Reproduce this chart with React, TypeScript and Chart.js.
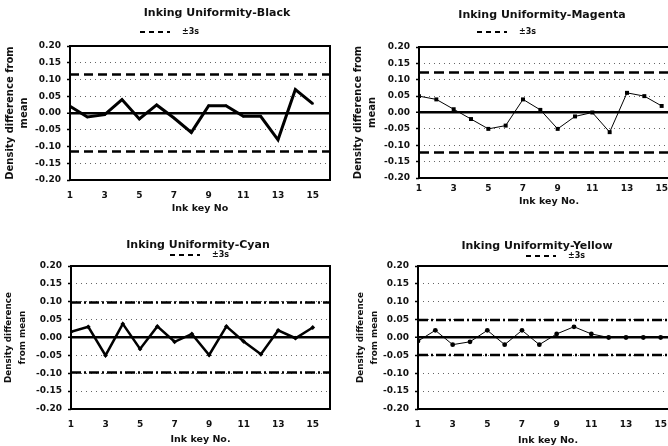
import { useEffect, useRef } from 'react';
import { Chart, registerables } from 'chart.js';

Chart.register(...registerables);

// ---------- data ----------
const inkKeys = [1, 2, 3, 4, 5, 6, 7, 8, 9, 10, 11, 12, 13, 14, 15];
const xTickValues = [1, 3, 5, 7, 9, 11, 13, 15];
const xRange = [1, 16];
const yRange = [-0.2, 0.2];
const yStep = 0.05;
const legendLabel = '±3s';

const blackValues = [0.02, -0.012, -0.005, 0.04, -0.018, 0.024, -0.015, -0.058, 0.022, 0.022, -0.01, -0.01, -0.08, 0.07, 0.028];
const magentaValues = [0.05, 0.04, 0.01, -0.02, -0.05, -0.04, 0.04, 0.008, -0.05, -0.012, 0.0, -0.06, 0.06, 0.05, 0.02];
const cyanValues = [0.016, 0.03, -0.05, 0.038, -0.032, 0.031, -0.012, 0.01, -0.049, 0.031, -0.011, -0.047, 0.02, -0.002, 0.028];
const yellowValues = [-0.01, 0.02, -0.02, -0.012, 0.02, -0.02, 0.02, -0.02, 0.01, 0.03, 0.01, 0.0, 0.0, 0.0, 0.0];

const blackLimit = 0.115;
const magentaLimit = 0.122;
const cyanLimit = 0.098;
const yellowLimit = 0.049;

const FONT = "'DejaVu Sans', Verdana, sans-serif";

type Spec = {
  title: string;
  values: number[];
  limit: number;
  yTitle: string[];
  yTitleSize: number;
  xTitle: string;
  canvas: [number, number, number, number];
  area: [number, number, number, number];
  titlePos: [number, number];
  legendPos: [number, number];
  yTitleX: number;
  xTickY: number;
  xTitleY: number;
  lineWidth: number;
  pointStyle: string;
  pointRadius: number;
  limitDash: number[];
};

const specs: Spec[] = [
  {
    title: 'Inking Uniformity-Black', values: blackValues, limit: blackLimit,
    yTitle: ['Density difference from', 'mean'], yTitleSize: 10, xTitle: 'Ink key No',
    canvas: [0, 0, 334, 223], area: [70, 46, 330, 180],
    titlePos: [217, 13], legendPos: [140, 32], yTitleX: 10, xTickY: 196, xTitleY: 209,
    lineWidth: 3, pointStyle: 'circle', pointRadius: 1.2, limitDash: [9, 5],
  },
  {
    title: 'Inking Uniformity-Magenta', values: magentaValues, limit: magentaLimit,
    yTitle: ['Density difference from', 'mean'], yTitleSize: 10, xTitle: 'Ink key No.',
    canvas: [334, 0, 350, 223], area: [419, 47, 679, 178],
    titlePos: [542, 15], legendPos: [477, 32], yTitleX: 358, xTickY: 189, xTitleY: 202,
    lineWidth: 1, pointStyle: 'rect', pointRadius: 2.8, limitDash: [10, 5],
  },
  {
    title: 'Inking Uniformity-Cyan', values: cyanValues, limit: cyanLimit,
    yTitle: ['Density difference', 'from mean'], yTitleSize: 8.8, xTitle: 'Ink key No.',
    canvas: [0, 223, 334, 223], area: [71, 266, 330, 409],
    titlePos: [198, 245], legendPos: [170, 255], yTitleX: 9, xTickY: 425, xTitleY: 440,
    lineWidth: 2.5, pointStyle: 'rectRot', pointRadius: 2.4, limitDash: [10, 3, 2, 3],
  },
  {
    title: 'Inking Uniformity-Yellow', values: yellowValues, limit: yellowLimit,
    yTitle: ['Density difference', 'from mean'], yTitleSize: 8.8, xTitle: 'Ink key No.',
    canvas: [334, 223, 350, 223], area: [418, 266, 678, 409],
    titlePos: [537, 246], legendPos: [526, 256], yTitleX: 361, xTickY: 425, xTitleY: 441,
    lineWidth: 1, pointStyle: 'circle', pointRadius: 2.4, limitDash: [10, 3, 2, 3],
  },
];

const decorPlugin = {
  id: 'decor',
  afterDraw(chart: any, _args: any, opts: any) {
    const ctx = chart.ctx as CanvasRenderingContext2D;
    const { left, top, right, bottom } = chart.chartArea;
    ctx.save();
    ctx.strokeStyle = '#000';
    ctx.lineWidth = 2;
    ctx.setLineDash([]);
    ctx.strokeRect(left, top, right - left, bottom - top);
    ctx.fillStyle = '#111';
    ctx.font = `bold 11px ${FONT}`;
    ctx.textAlign = 'center';
    ctx.textBaseline = 'middle';
    ctx.fillText(opts.title, opts.titleX, opts.titleY);
    const lim = chart.data.datasets[1];
    ctx.strokeStyle = '#000';
    ctx.lineWidth = 2;
    ctx.setLineDash([5, 4]);
    ctx.beginPath();
    ctx.moveTo(opts.legendX, opts.legendY);
    ctx.lineTo(opts.legendX + 30, opts.legendY);
    ctx.stroke();
    ctx.setLineDash([]);
    ctx.font = `bold 8px ${FONT}`;
    ctx.textAlign = 'left';
    ctx.fillText(lim.label, opts.legendX + 42, opts.legendY);
    ctx.restore();
  },
};

function ChartBox({ spec }: { spec: Spec }) {
  const ref = useRef<HTMLCanvasElement | null>(null);
  useEffect(() => {
    const [cx, cy, cw, ch] = spec.canvas;
    const [L, T, R, B] = spec.area;
    const yLH = 14;
    const xTitleLH = 12;
    const tickLH = 11;
    const padLeft = 0;
    const yWidth = L - cx - padLeft;
    const xHeight = cy + ch - B;
    const limitData = (v: number) => [
      { x: xRange[0], y: v },
      { x: xRange[1], y: v },
    ];
    const chart = new Chart(ref.current as HTMLCanvasElement, {
      type: 'line',
      data: {
        datasets: [
          {
            label: 'Density difference from mean',
            data: spec.values.map((v, i) => ({ x: inkKeys[i], y: v })),
            borderColor: '#000',
            backgroundColor: '#000',
            borderWidth: spec.lineWidth,
            pointStyle: spec.pointStyle as any,
            pointRadius: spec.pointRadius,
            pointBorderWidth: 0,
            tension: 0,
          },
          {
            label: legendLabel,
            data: limitData(spec.limit),
            borderColor: '#000',
            borderWidth: 2.5,
            borderDash: spec.limitDash,
            pointRadius: 0,
          },
          {
            label: legendLabel + ' lower',
            data: limitData(-spec.limit),
            borderColor: '#000',
            borderWidth: 2.5,
            borderDash: spec.limitDash,
            pointRadius: 0,
          },
        ],
      },
      options: {
        animation: false,
        responsive: false,
        devicePixelRatio: 1,
        layout: {
          padding: { left: padLeft, top: T - cy, right: cx + cw - R, bottom: 0 },
        },
        plugins: {
          legend: { display: false },
          tooltip: { enabled: false },
          decor: {
            title: spec.title,
            titleX: spec.titlePos[0] - cx,
            titleY: spec.titlePos[1] - cy,
            legendX: spec.legendPos[0] - cx,
            legendY: spec.legendPos[1] - cy,
          },
        } as any,
        scales: {
          x: {
            type: 'linear',
            min: xRange[0],
            max: xRange[1],
            afterBuildTicks: (scale: any) => {
              scale.ticks = xTickValues.map((v) => ({ value: v }));
            },
            afterFit: (scale: any) => {
              scale.height = xHeight;
            },
            grid: { display: false, drawTicks: false },
            border: { display: false },
            ticks: {
              color: '#111',
              font: { family: FONT, weight: 'bold', size: 9, lineHeight: tickLH / 9 },
              padding: spec.xTickY - B - tickLH / 2,
              maxRotation: 0,
              autoSkip: false,
              callback: (v: any) => String(v),
            },
            title: {
              display: true,
              text: spec.xTitle,
              color: '#111',
              font: { family: FONT, weight: 'bold', size: 9.5, lineHeight: xTitleLH / 9.5 },
              padding: { top: 0, bottom: cy + ch - spec.xTitleY - xTitleLH / 2 },
            },
          },
          y: {
            type: 'linear',
            min: yRange[0],
            max: yRange[1],
            afterFit: (scale: any) => {
              scale.width = yWidth;
            },
            grid: {
              color: (c: any) => (c.tick && Math.abs(c.tick.value) < 1e-9 ? '#000' : '#666'),
              lineWidth: (c: any) => (c.tick && Math.abs(c.tick.value) < 1e-9 ? 2.5 : 1),
              drawTicks: true,
              tickLength: 3,
              tickColor: '#000',
              tickWidth: 1.5,
            },
            border: {
              display: false,
              dash: (c: any) => (c.tick && Math.abs(c.tick.value) < 1e-9 ? [] : [1, 4]),
            },
            ticks: {
              stepSize: yStep,
              color: '#111',
              font: { family: FONT, weight: 'bold', size: 9 },
              padding: 6,
              callback: (v: any) => Number(v).toFixed(2),
            },
            title: {
              display: true,
              text: spec.yTitle,
              color: '#111',
              font: { family: FONT, weight: 'bold', size: spec.yTitleSize, lineHeight: yLH / spec.yTitleSize },
              padding: { top: spec.yTitleX - cx - padLeft - yLH / 2, bottom: 0 },
            },
          },
        },
      } as any,
      plugins: [decorPlugin],
    });
    return () => chart.destroy();
  }, [spec]);
  const [cx, cy, cw, ch] = spec.canvas;
  return (
    <canvas
      ref={ref}
      width={cw}
      height={ch}
      style={{ position: 'absolute', left: cx, top: cy, width: cw, height: ch }}
    />
  );
}

export default function App() {
  return (
    <div
      style={{
        position: 'absolute',
        left: 0,
        top: 0,
        width: 668,
        height: 446,
        overflow: 'hidden',
        background: '#fff',
      }}
    >
      {specs.map((s) => (
        <ChartBox key={s.title} spec={s} />
      ))}
    </div>
  );
}
